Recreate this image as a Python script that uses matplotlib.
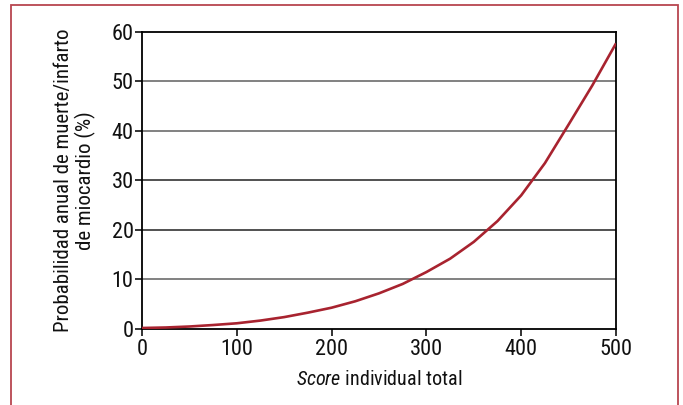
import matplotlib.pyplot as plt
from matplotlib.patches import Rectangle

plt.rcParams['font.family'] = ['Roboto Condensed', 'Liberation Sans', 'DejaVu Sans']
plt.rcParams['mathtext.fontset'] = 'custom'
plt.rcParams['mathtext.rm'] = 'Roboto Condensed'
plt.rcParams['mathtext.it'] = 'Roboto Condensed:italic'

# puntuación total frente a probabilidad anual (%)
score = [0, 25, 50, 75, 100, 125, 150, 175, 200, 225, 250, 275, 300,
         325, 350, 375, 400, 425, 450, 475, 500]
prob = [0.2, 0.3, 0.5, 0.8, 1.15, 1.7, 2.4, 3.3, 4.3, 5.6, 7.2, 9.1, 11.5,
        14.2, 17.6, 21.8, 27.0, 33.5, 41.3, 49.2, 57.7]

x_ticks = [0, 100, 200, 300, 400, 500]
y_ticks = [0, 10, 20, 30, 40, 50, 60]
grid_dark = [20, 30]
grid_light = [10, 40, 50]

fig = plt.figure(figsize=(6.83, 4.05), dpi=100)
fig.patches.append(Rectangle((0.016, -0.05), 0.9765, 1.038, transform=fig.transFigure,
                             fill=False, edgecolor='#b8454f', linewidth=1.3))

ax = fig.add_axes([0.2079, 0.1877, 0.694, 0.7333])
for g in grid_light:
    ax.axhline(g, color='#777777', linewidth=1.3, zorder=1)
for g in grid_dark:
    ax.axhline(g, color='#333333', linewidth=1.2, zorder=1)

ax.plot(score, prob, color='#a8232f', linewidth=1.9, zorder=3, solid_capstyle='butt')

ax.set_xlim(0, 500)
ax.set_ylim(0, 60)
ax.set_xticks(x_ticks)
ax.set_yticks(y_ticks)
ax.tick_params(direction='out', length=5, width=1.2, labelsize=16, colors='#111111', pad=1)
ax.tick_params(axis='x', pad=2.5)
for s in ax.spines.values():
    s.set_linewidth(1.3)
    s.set_color('black')

ax.set_ylabel('Probabilidad anual de muerte/infarto\nde miocardio (%)', fontsize=15, labelpad=11,
              linespacing=1.15, color='#111111')
ax.set_xlabel(r'$\mathit{Score}$ individual total', fontsize=14.5, labelpad=7, color='#111111')

fig.savefig('out.png', dpi=100)
